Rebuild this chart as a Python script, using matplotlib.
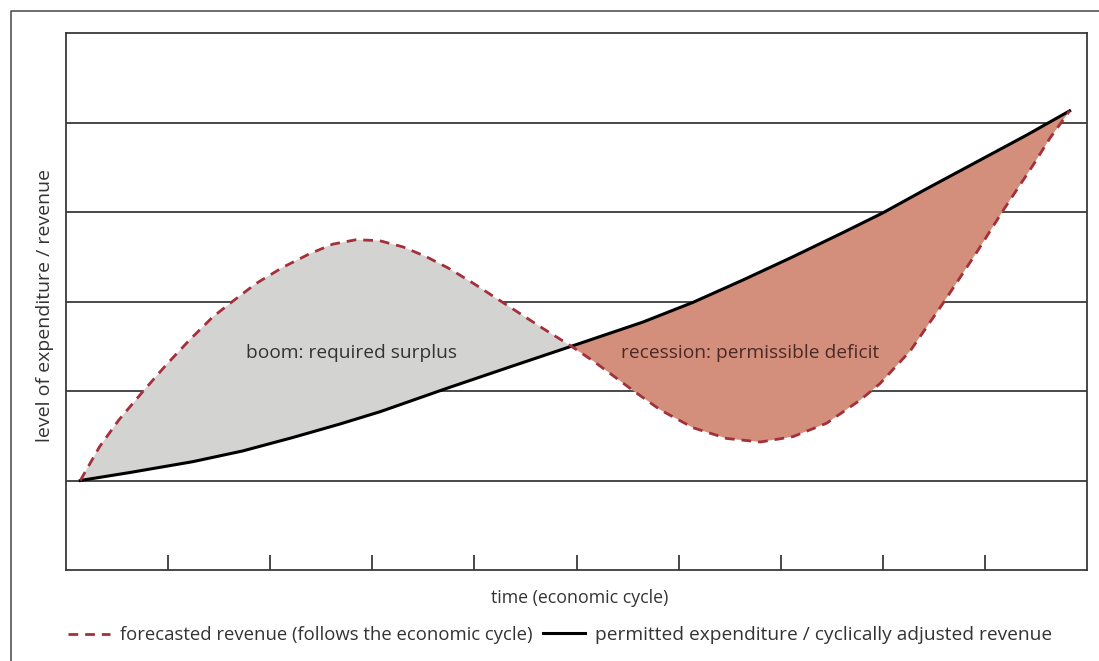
import numpy as np
import matplotlib.pyplot as plt
from matplotlib.lines import Line2D

plt.rcParams['font.family'] = ['Open Sans', 'DejaVu Sans']

# values (x: time in tick units, y: level in grid units)
rev_x = [0.14, 0.33, 0.52, 0.75, 0.98, 1.21, 1.44, 1.63, 1.86, 2.12, 2.38, 2.61,
         2.84, 3.07, 3.30, 3.53, 3.75, 3.98, 4.21, 4.44, 4.67, 4.95,
         5.17, 5.36, 5.56, 5.82, 6.14, 6.47, 6.80, 7.12, 7.45, 7.78, 7.97,
         8.27, 8.59, 8.92, 9.18, 9.47, 9.64, 9.83]
rev_y = [1.00, 1.38, 1.68, 1.99, 2.29, 2.57, 2.83, 3.00, 3.20, 3.38, 3.53, 3.64,
         3.69, 3.68, 3.61, 3.50, 3.37, 3.21, 3.04, 2.87, 2.70, 2.50,
         2.33, 2.17, 2.00, 1.79, 1.59, 1.47, 1.43, 1.49, 1.64, 1.90, 2.08,
         2.45, 2.98, 3.55, 4.02, 4.52, 4.83, 5.13]

exp_x = [0.14, 0.63, 1.24, 1.73, 2.22, 2.68, 3.08, 3.73, 4.35, 4.95, 5.65,
         6.14, 6.63, 7.12, 7.61, 8.00, 8.43, 8.92, 9.41, 9.83]
exp_y = [1.00, 1.09, 1.21, 1.33, 1.48, 1.63, 1.77, 2.03, 2.27, 2.50, 2.77,
         2.99, 3.24, 3.50, 3.77, 3.99, 4.26, 4.56, 4.86, 5.13]

cross = 4.95  # where the two curves meet

rev_x = np.array(rev_x); rev_y = np.array(rev_y)
exp_x = np.array(exp_x); exp_y = np.array(exp_y)

fig = plt.figure(figsize=(10.99, 6.61), dpi=100)
ax = fig.add_axes([66/1099, 1-570/661, (1087-66)/1099, (570-33)/661])

# shaded areas
b_r = rev_x <= cross
b_e = exp_x <= cross
ax.fill(np.concatenate([rev_x[b_r], exp_x[b_e][::-1]]),
        np.concatenate([rev_y[b_r], exp_y[b_e][::-1]]),
        color='#d3d3d1', lw=0, zorder=1)
r_r = rev_x >= cross
r_e = exp_x >= cross
ax.fill(np.concatenate([rev_x[r_r], exp_x[r_e][::-1]]),
        np.concatenate([rev_y[r_r], exp_y[r_e][::-1]]),
        color='#d38f7b', lw=0, zorder=1)

for g in [1, 2, 3, 4, 5]:
    ax.axhline(g, color='#3a3a3a', lw=1.3, zorder=0)

ax.plot(exp_x, exp_y, color='black', lw=2.2, zorder=3, solid_joinstyle='round')
ax.plot(rev_x, rev_y, color='#a3303a', lw=2.0, ls=(0, (3.5, 2.5)), zorder=4)

ax.text(2.80, 2.43, 'boom: required surplus', ha='center', va='center',
        fontsize=13.8, color='#333333')
ax.text(6.70, 2.43, 'recession: permissible deficit', ha='center', va='center',
        fontsize=13.8, color='#4a2a25')

ax.set_xlim(0, 10)
ax.set_ylim(0, 6)
ax.set_xticks(range(1, 10))
ax.set_xticklabels([])
ax.set_yticks([])
ax.tick_params(axis='x', direction='in', length=11, width=1.3, color='#3a3a3a')
for s in ax.spines.values():
    s.set_color('#3a3a3a')
    s.set_linewidth(1.3)

ax.set_xlabel('time (economic cycle)', fontsize=12.8, color='#333333')
ax.xaxis.set_label_coords(0.503, -0.035)
ax.set_ylabel('level of expenditure / revenue', fontsize=14, color='#333333')
ax.yaxis.set_label_coords(-0.021, 0.493)
ax.yaxis.label.set_va('center')

# legend: two entries placed side by side
legend_items = [
    (Line2D([], [], color='#a3303a', lw=2.0, ls=(0, (3.5, 2.5))),
     'forecasted revenue (follows the economic cycle)', 68, 13.3),
    (Line2D([], [], color='black', lw=2.2),
     'permitted expenditure / cyclically adjusted revenue', 543, 13.8),
]
for h, lab, x0, fs in legend_items:
    fig.legend([h], [lab], loc='center left', bbox_to_anchor=(x0/1099, 1-635/661),
               frameon=False, fontsize=fs, handlelength=42/(fs*100/72),
               handletextpad=10/(fs*100/72), borderpad=0, borderaxespad=0,
               labelcolor='#333333')

# outer frame (top and left edges only)
fig.add_artist(Line2D([11/1099, 11/1099, 1.0], [0.0, 1-11/661, 1-11/661],
                      transform=fig.transFigure, color='#555555', lw=1.2))

fig.savefig('out.png', dpi=100)
